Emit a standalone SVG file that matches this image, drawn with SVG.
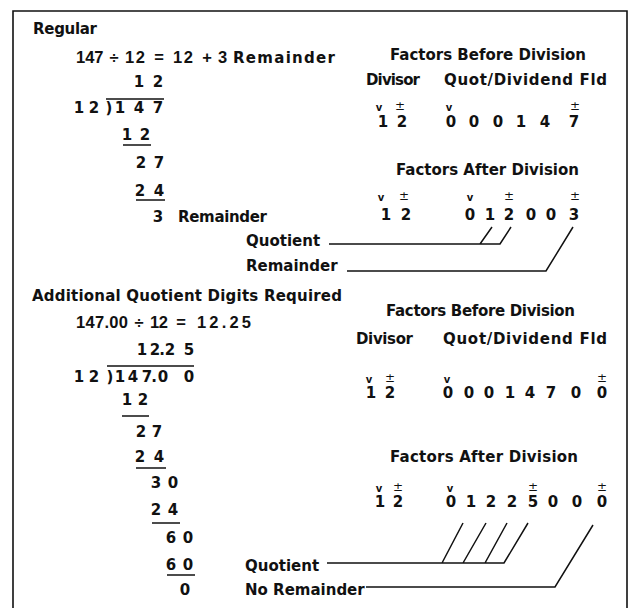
<svg xmlns="http://www.w3.org/2000/svg" width="631" height="608" viewBox="0 0 631 608">
<style>
.t{font-family:"DejaVu Sans","Liberation Sans",sans-serif;font-weight:700;font-size:15px;fill:#111}
.e{font-family:"Liberation Sans",Arial,sans-serif;font-weight:700;font-size:16.5px;fill:#111}
.m{text-anchor:middle}
.v{font-family:"DejaVu Sans","Liberation Sans",sans-serif;font-weight:700;font-size:10px;text-anchor:middle;fill:#111}
.pm{font-family:"DejaVu Sans",sans-serif;font-weight:400;font-size:12px;text-anchor:middle;fill:#111}
.ln{stroke:#111;stroke-width:1.5;fill:none}
.bd{stroke:#111;stroke-width:1.6;fill:none}
</style>
<rect width="631" height="608" fill="#fff"/>
<g id="frame">
<path class="bd" d="M13,608 V11 H627 V608"/>
</g>

<g id="regular-title"><text class="t" x="33" y="34" textLength="64">Regular</text></g>

<g id="regular-equation">
<text class="e" x="76" y="63">147</text>
<text class="e m" x="114" y="63">÷</text>
<text class="e" x="125" y="63" textLength="20">12</text>
<text class="e m" x="159" y="63">=</text>
<text class="e" x="173" y="63" textLength="20">12</text>
<text class="e m" x="207" y="63">+</text>
<text class="e" x="218" y="63">3</text>
<text class="t" x="233" y="63" textLength="102">Remainder</text>
</g>

<g id="regular-longdivision">
<text class="t m" x="139 158" y="87">12</text>
<line class="ln" x1="106" y1="99" x2="164" y2="99"/>
<text class="t m" x="79 94" y="113">12</text>
<text class="t m" x="109" y="113">)</text>
<text class="t m" x="120 139 158" y="113">147</text>
<text class="t m" x="127 145" y="140">12</text>
<line class="ln" x1="123" y1="145" x2="151" y2="145"/>
<text class="t m" x="141 159" y="168">27</text>
<text class="t m" x="140 159" y="196">24</text>
<line class="ln" x1="136" y1="200" x2="165" y2="200"/>
<text class="t m" x="158" y="222">3</text>
<text class="t" x="178" y="222" textLength="89">Remainder</text>
</g>

<g id="regular-before">
<text class="t" x="390" y="60" textLength="196">Factors Before Division</text>
<text class="t" x="366" y="85" textLength="54">Divisor</text>
<text class="t" x="444" y="85" textLength="163">Quot/Dividend Fld</text>
<text class="v" x="379" y="111">v</text>
<text class="pm" x="400" y="110">±</text>
<text class="v" x="449" y="111">v</text>
<text class="pm" x="575" y="110">±</text>
<text class="t m" x="383 402" y="127">12</text>
<text class="t m" x="451 474 498 521 545 574" y="127">000147</text>
</g>

<g id="regular-after">
<text class="t" x="396" y="175" textLength="183">Factors After Division</text>
<text class="v" x="381" y="201">v</text>
<text class="pm" x="404" y="200">±</text>
<text class="v" x="470" y="201">v</text>
<text class="pm" x="509" y="200">±</text>
<text class="pm" x="575" y="200">±</text>
<text class="t m" x="386 406" y="220">12</text>
<text class="t m" x="470 490 509 531 551 574" y="220">012003</text>
</g>

<g id="regular-labels">
<text class="t" x="246" y="246">Quotient</text>
<text class="t" x="246" y="271">Remainder</text>
</g>

<g id="additional-title"><text class="t" x="32" y="301" textLength="310">Additional Quotient Digits Required</text></g>

<g id="additional-equation">
<text class="e" x="76" y="328" textLength="52">147.00</text>
<text class="e m" x="139" y="328">÷</text>
<text class="e" x="150" y="328" textLength="18">12</text>
<text class="e m" x="181" y="328">=</text>
<text class="e" x="197" y="328" textLength="54">12.25</text>
</g>

<g id="additional-longdivision">
<text class="t m" x="142 155 162 170 189" y="355">12.25</text>
<line class="ln" x1="107" y1="366" x2="194" y2="366"/>
<text class="t m" x="79 94" y="382">12</text>
<text class="t m" x="110" y="382">)</text>
<text class="t m" x="120 133 147 154 163 189" y="382">147.00</text>
<text class="t m" x="127 143" y="405">12</text>
<line class="ln" x1="122" y1="416" x2="149" y2="416"/>
<text class="t m" x="141 157" y="437">27</text>
<text class="t m" x="140 159" y="462">24</text>
<line class="ln" x1="136" y1="468" x2="166" y2="468"/>
<text class="t m" x="156 173" y="488">30</text>
<text class="t m" x="156 173" y="515">24</text>
<line class="ln" x1="152" y1="523" x2="180" y2="523"/>
<text class="t m" x="171 188" y="543">60</text>
<text class="t m" x="171 188" y="570">60</text>
<line class="ln" x1="167" y1="575" x2="195" y2="575"/>
<text class="t m" x="185" y="595">0</text>
</g>

<g id="additional-before">
<text class="t" x="386" y="316" textLength="189">Factors Before Division</text>
<text class="t" x="356" y="344" textLength="57">Divisor</text>
<text class="t" x="443" y="344" textLength="164">Quot/Dividend Fld</text>
<text class="v" x="369" y="383">v</text>
<text class="pm" x="390" y="382">±</text>
<text class="v" x="447" y="383">v</text>
<text class="pm" x="602" y="382">±</text>
<text class="t m" x="371 390" y="398">12</text>
<text class="t m" x="448 469 489 510 530 551 576 602" y="398">00014700</text>
</g>

<g id="additional-after">
<text class="t" x="390" y="462" textLength="188">Factors After Division</text>
<text class="v" x="379" y="492">v</text>
<text class="pm" x="398" y="491">±</text>
<text class="v" x="450" y="492">v</text>
<text class="pm" x="533" y="491">±</text>
<text class="pm" x="602" y="491">±</text>
<text class="t m" x="380 398" y="507">12</text>
<text class="t m" x="451 471 491 512 533 553 577 602" y="507">01225000</text>
</g>

<g id="additional-labels">
<text class="t" x="245" y="571">Quotient</text>
<text class="t" x="245" y="595">No Remainder</text>
</g>

<g id="connectors">
<path class="ln" d="M329,244 H500 L511,227 M480,244 L492,227"/>
<path class="ln" d="M347,271 H546 L573,227"/>
<path class="ln" d="M327,563 H504 L528,523 M442,563 L463,523 M463,563 L486,523 M485,563 L507,523"/>
<path class="ln" d="M366,587 H555 L593,525"/>
</g>
</svg>
